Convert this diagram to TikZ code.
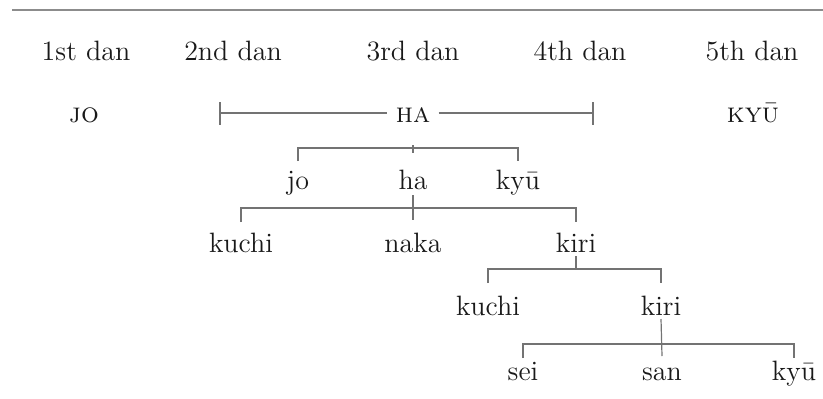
\documentclass[tikz,border=0pt]{standalone}
\usepackage{fontspec}
\begin{document}
\begin{tikzpicture}[x=0.5pt,y=-0.5pt,
  lbl/.style={anchor=base, inner sep=0pt, font=\fontsize{14}{16}\selectfont, text=black!90},
  sclbl/.style={lbl, font=\fontsize{14}{16}\selectfont\scshape},
  tree/.style={draw=black!55, line width=0.6pt},
  rulestyle/.style={draw=black!45, line width=1.2pt}]
\useasboundingbox (0,0) rectangle (823,398);
% top rule
\coordinate (rl) at (12,10);
\coordinate (rr) at (823,10);
\draw[rulestyle] (rl) -- (rr);
% dan row
\node[lbl] (d1) at (86,60) {1st dan};
\node[lbl] (d2) at (233,60) {2nd dan};
\node[lbl] (d3) at (413,60) {3rd dan};
\node[lbl] (d4) at (580,60) {4th dan};
\node[lbl] (d5) at (752,60) {5th dan};
% small caps row
\node[sclbl] (jo0) at (84,122) {jo};
\node[sclbl, inner xsep=4pt] (ha0) at (413,122) {ha};
\node[sclbl] (kyu0) at (753,122) {kyū};
\coordinate (hl) at (220,113);
\coordinate (hr) at (593,113);
\draw[tree] (hl) -- (hl -| ha0.west);
\draw[tree] (ha0.east |- hr) -- (hr);
\draw[tree] ([yshift=5.5pt]hl) -- ([yshift=-6pt]hl);
\draw[tree] ([yshift=5.5pt]hr) -- ([yshift=-6pt]hr);
% tree row A
\node[lbl] (joA) at (298,189) {jo};
\node[lbl] (haA) at (413,189) {ha};
\node[lbl] (kyuA) at (518,189) {kyū};
\draw[tree] (joA |- 0,161) -- (joA |- 0,148) -- (kyuA |- 0,148) -- (kyuA |- 0,161);
\draw[tree] (haA |- 0,145) -- (haA |- 0,153);
% tree row B
\node[lbl] (kuchiB) at (241,252) {kuchi};
\node[lbl] (nakaB) at (413,252) {naka};
\node[lbl] (kiriB) at (576,252) {kiri};
\draw[tree] (kuchiB |- 0,222) -- (kuchiB |- 0,208) -- (kiriB |- 0,208) -- (kiriB |- 0,222);
\draw[tree] (haA |- 0,195) -- (nakaB |- 0,220);
% tree row C
\node[lbl] (kuchiC) at (488,315) {kuchi};
\node[lbl] (kiriC) at (661,315) {kiri};
\draw[tree] (kuchiC |- 0,283) -- (kuchiC |- 0,269) -- (kiriC |- 0,269) -- (kiriC |- 0,283);
\draw[tree] (kiriB |- 0,256) -- (kiriB |- 0,269);
% tree row D
\node[lbl] (seiD) at (523,380) {sei};
\node[lbl] (sanD) at (662,380) {san};
\node[lbl] (kyuD) at (794,380) {kyū};
\draw[tree] (seiD |- 0,358) -- (seiD |- 0,344) -- (kyuD |- 0,344) -- (kyuD |- 0,358);
\draw[tree] (kiriC |- 0,319) -- (sanD |- 0,356);
\end{tikzpicture}
\end{document}
